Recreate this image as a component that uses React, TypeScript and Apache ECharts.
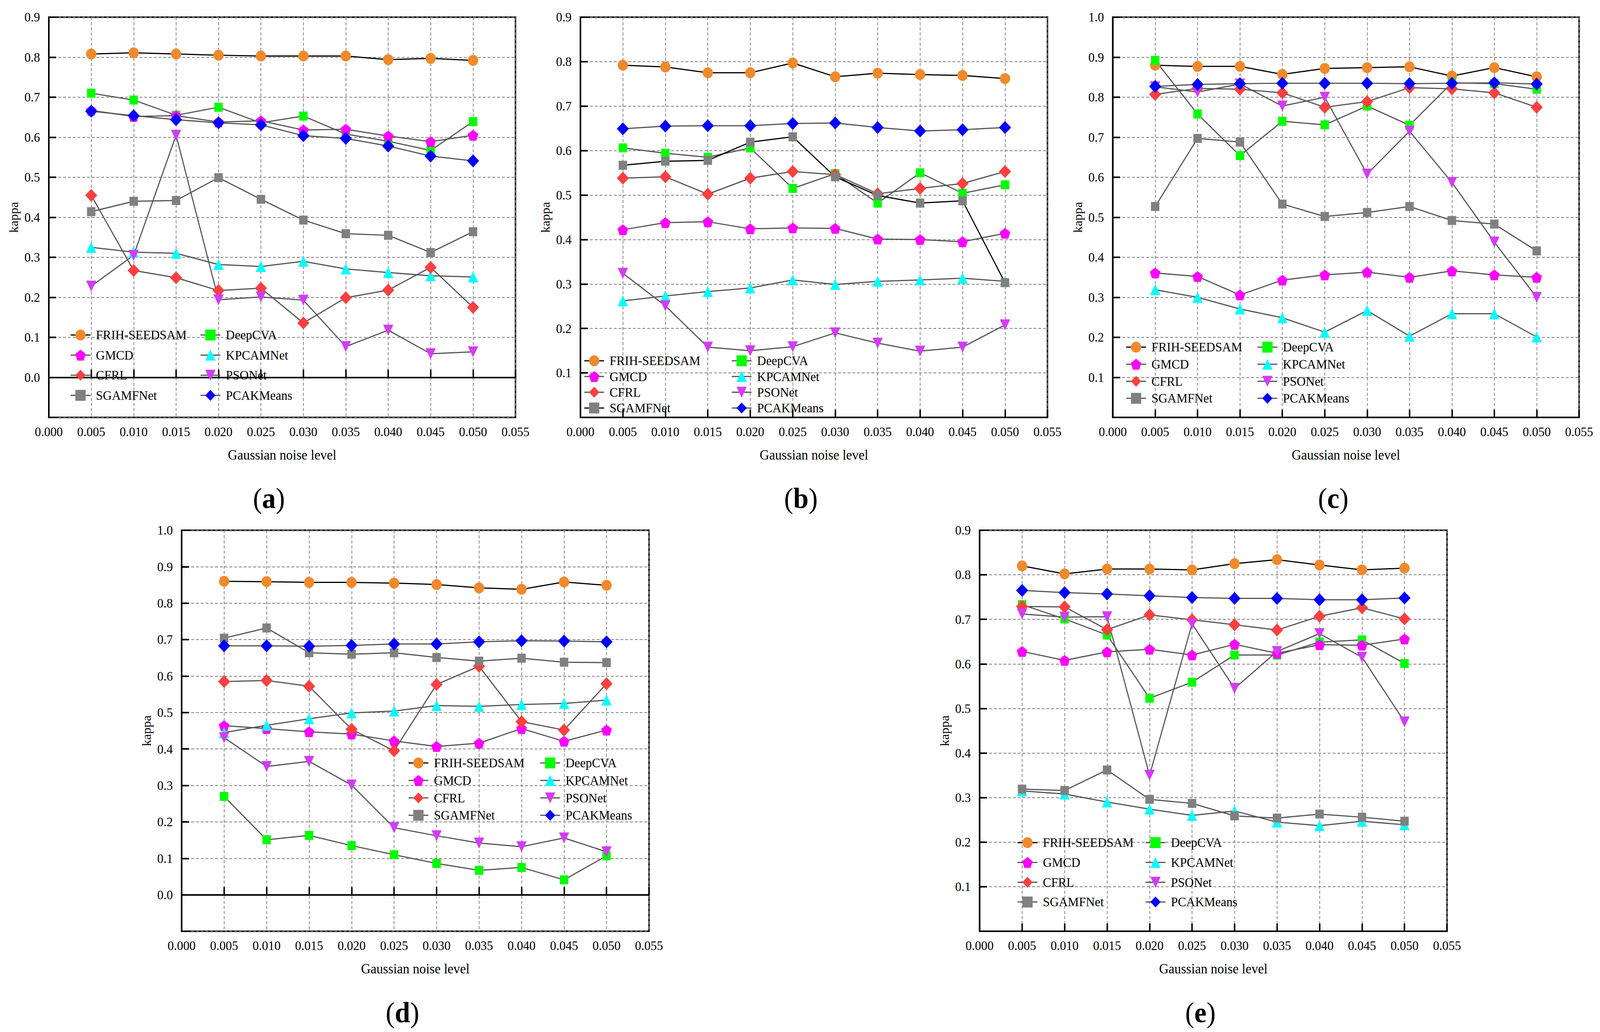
import React, { useEffect, useRef, useState } from 'react';
import * as echarts from 'echarts';

const FONT = '"Liberation Serif", "Times New Roman", serif';
const PAGE_W = 4361;
const PAGE_H = 2643;

const noiseLevels = [0.005, 0.01, 0.015, 0.02, 0.025, 0.03, 0.035, 0.04, 0.045, 0.05];

// legend order (two columns of four)
const methods = ['FRIH-SEEDSAM', 'GMCD', 'CFRL', 'SGAMFNet', 'DeepCVA', 'KPCAMNet', 'PSONet', 'PCAKMeans'];
// order in which the curves are drawn (later ones on top)
const drawOrder = ['FRIH-SEEDSAM', 'DeepCVA', 'GMCD', 'KPCAMNet', 'CFRL', 'PSONet', 'SGAMFNet', 'PCAKMeans'];

// kappa values, one row per method in the order of `methods`
const kappaA = [
  [0.808, 0.811, 0.808, 0.805, 0.803, 0.803, 0.803, 0.794, 0.797, 0.792],
  [0.667, 0.652, 0.654, 0.638, 0.641, 0.618, 0.62, 0.603, 0.589, 0.605],
  [0.455, 0.267, 0.249, 0.217, 0.223, 0.136, 0.199, 0.218, 0.275, 0.175],
  [0.414, 0.44, 0.442, 0.499, 0.445, 0.393, 0.359, 0.355, 0.312, 0.364],
  [0.71, 0.693, 0.655, 0.675, 0.636, 0.653, 0.608, 0.59, 0.567, 0.639],
  [0.325, 0.313, 0.31, 0.282, 0.277, 0.29, 0.271, 0.262, 0.254, 0.251],
  [0.228, 0.305, 0.605, 0.194, 0.201, 0.193, 0.077, 0.118, 0.059, 0.064],
  [0.665, 0.654, 0.644, 0.636, 0.631, 0.604, 0.597, 0.578, 0.553, 0.541],
];

const kappaB = [
  [0.792, 0.788, 0.775, 0.775, 0.797, 0.766, 0.774, 0.771, 0.769, 0.762],
  [0.422, 0.438, 0.44, 0.424, 0.426, 0.425, 0.401, 0.4, 0.395, 0.414],
  [0.538, 0.541, 0.502, 0.538, 0.553, 0.546, 0.503, 0.515, 0.526, 0.553],
  [0.567, 0.576, 0.578, 0.619, 0.631, 0.541, 0.499, 0.482, 0.487, 0.303],
  [0.606, 0.594, 0.585, 0.606, 0.515, 0.548, 0.482, 0.55, 0.504, 0.523],
  [0.262, 0.273, 0.283, 0.291, 0.309, 0.299, 0.306, 0.309, 0.313, 0.306],
  [0.324, 0.251, 0.158, 0.15, 0.159, 0.19, 0.167, 0.149, 0.158, 0.208],
  [0.649, 0.655, 0.656, 0.656, 0.661, 0.662, 0.652, 0.644, 0.647, 0.652],
];

const kappaC = [
  [0.88, 0.877, 0.877, 0.857, 0.872, 0.874, 0.876, 0.853, 0.874, 0.851],
  [0.361, 0.352, 0.306, 0.343, 0.356, 0.363, 0.35, 0.366, 0.356, 0.35],
  [0.807, 0.822, 0.82, 0.811, 0.775, 0.789, 0.824, 0.821, 0.811, 0.775],
  [0.527, 0.697, 0.688, 0.533, 0.502, 0.512, 0.527, 0.492, 0.483, 0.416],
  [0.892, 0.758, 0.654, 0.74, 0.731, 0.778, 0.73, 0.836, 0.834, 0.82],
  [0.319, 0.3, 0.271, 0.249, 0.213, 0.267, 0.203, 0.259, 0.259, 0.201],
  [0.826, 0.813, 0.833, 0.778, 0.8, 0.608, 0.715, 0.587, 0.438, 0.3],
  [0.827, 0.832, 0.834, 0.835, 0.835, 0.835, 0.834, 0.835, 0.836, 0.833],
];

const kappaD = [
  [0.86, 0.859, 0.857, 0.857, 0.855, 0.851, 0.842, 0.838, 0.858, 0.849],
  [0.464, 0.456, 0.447, 0.441, 0.422, 0.407, 0.416, 0.456, 0.421, 0.452],
  [0.585, 0.588, 0.572, 0.454, 0.395, 0.577, 0.627, 0.475, 0.452, 0.579],
  [0.704, 0.732, 0.664, 0.66, 0.664, 0.651, 0.641, 0.649, 0.638, 0.637],
  [0.27, 0.151, 0.163, 0.135, 0.11, 0.086, 0.067, 0.075, 0.041, 0.107],
  [0.445, 0.465, 0.483, 0.499, 0.504, 0.519, 0.517, 0.522, 0.525, 0.534],
  [0.431, 0.352, 0.366, 0.301, 0.184, 0.162, 0.142, 0.132, 0.156, 0.118],
  [0.683, 0.683, 0.682, 0.684, 0.688, 0.688, 0.694, 0.697, 0.696, 0.694],
];

const kappaE = [
  [0.82, 0.802, 0.813, 0.813, 0.811, 0.825, 0.834, 0.822, 0.811, 0.815],
  [0.628, 0.608, 0.627, 0.633, 0.62, 0.644, 0.624, 0.643, 0.642, 0.656],
  [0.729, 0.728, 0.677, 0.71, 0.699, 0.688, 0.676, 0.707, 0.726, 0.701],
  [0.319, 0.316, 0.362, 0.296, 0.287, 0.259, 0.254, 0.263, 0.256, 0.247],
  [0.733, 0.701, 0.665, 0.523, 0.559, 0.62, 0.62, 0.649, 0.654, 0.601],
  [0.315, 0.308, 0.29, 0.274, 0.26, 0.27, 0.245, 0.237, 0.247, 0.239],
  [0.712, 0.705, 0.706, 0.35, 0.69, 0.545, 0.628, 0.668, 0.615, 0.47],
  [0.765, 0.76, 0.757, 0.753, 0.749, 0.747, 0.747, 0.744, 0.744, 0.748],
];

const PENTAGON = 'path://M0,-10L9.51,-3.09L5.88,8.09L-5.88,8.09L-9.51,-3.09Z';

const markerStyle: Record<string, { symbol: string; size: number; color: string; rotate?: number }> = {
  'FRIH-SEEDSAM': { symbol: 'circle', size: 28, color: '#F0892C' },
  GMCD: { symbol: PENTAGON, size: 29, color: '#FF00FF' },
  CFRL: { symbol: 'diamond', size: 33, color: '#FA4040' },
  SGAMFNet: { symbol: 'rect', size: 23, color: '#808080' },
  DeepCVA: { symbol: 'rect', size: 23, color: '#00FF00' },
  KPCAMNet: { symbol: 'triangle', size: 28, color: '#00FFFF' },
  PSONet: { symbol: 'triangle', size: 28, color: '#D23CF5', rotate: 180 },
  PCAKMeans: { symbol: 'diamond', size: 33, color: '#0000FF' },
};

const panels = [
  { tag: 'a', data: kappaA, grid: { left: 133, top: 44, width: 1272, height: 1025 }, yMin: -0.1, yMax: 0.9, firstLabel: 0,
    legendLeft: [191, 545], legendRow: 858, legendStep: 51.5, blackLines: ['FRIH-SEEDSAM'], label: [733, 1276] },
  { tag: 'b', data: kappaB, grid: { left: 1582, top: 44, width: 1273, height: 1025 }, yMin: 0, yMax: 0.9, firstLabel: 0.1,
    legendLeft: [1591, 1993], legendRow: 924, legendStep: 40.3, blackLines: ['FRIH-SEEDSAM', 'SGAMFNet'], label: [2183, 1276] },
  { tag: 'c', data: kappaC, grid: { left: 3033, top: 44, width: 1271, height: 1025 }, yMin: 0, yMax: 1.0, firstLabel: 0.1,
    legendLeft: [3068, 3426], legendRow: 889, legendStep: 43.7, blackLines: ['FRIH-SEEDSAM'], label: [3634, 1276] },
  { tag: 'd', data: kappaD, grid: { left: 495, top: 1358, width: 1274, height: 1027 }, yMin: -0.1, yMax: 1.0, firstLabel: 0,
    legendLeft: [1112, 1471], legendRow: 1954, legendStep: 44.7, blackLines: ['FRIH-SEEDSAM'], label: [1097, 2593] },
  { tag: 'e', data: kappaE, grid: { left: 2670, top: 1358, width: 1274, height: 1027 }, yMin: 0, yMax: 0.9, firstLabel: 0.1,
    legendLeft: [2772, 3121], legendRow: 2158, legendStep: 50.7, blackLines: ['FRIH-SEEDSAM'], label: [3272, 2593] },
];

const ITEM_H = 35;

const App: React.FC = () => {
  const chartRef = useRef<HTMLDivElement>(null);
  const [fit, setFit] = useState({ sx: 1, sy: 1 });

  useEffect(() => {
    // the browser window may be narrower than the figure: squeeze it to the viewport
    document.body.style.margin = '0';
    document.body.style.overflow = 'hidden';
    const w = window.innerWidth || PAGE_W;
    const h = window.innerHeight || PAGE_H;
    setFit({ sx: Math.min(1, w / PAGE_W), sy: Math.min(1, h / PAGE_H) });
  }, []);

  useEffect(() => {
    if (!chartRef.current) return;
    const chart = echarts.init(chartRef.current, undefined, { renderer: 'svg', width: PAGE_W, height: PAGE_H });

    const lineColor = (p: any, name: string) => (p.blackLines.includes(name) ? '#000000' : '#555555');

    const grids = panels.map(p => ({
      ...p.grid,
      show: true,
      borderColor: '#000',
      borderWidth: 4,
      backgroundColor: 'transparent',
      containLabel: false,
      outerBoundsMode: 'none',
    }));

    const xAxes = panels.map((p, i) => ({
      type: 'value',
      gridIndex: i,
      min: 0,
      max: 0.055,
      interval: 0.005,
      name: 'Gaussian noise level',
      nameLocation: 'middle',
      nameGap: 78,
      nameTextStyle: { fontFamily: FONT, fontSize: 36, color: '#000' },
      axisLine: { show: true, lineStyle: { color: '#000', width: 4 } },
      axisTick: { show: true, inside: true, length: 20, lineStyle: { color: '#000', width: 4 } },
      axisLabel: {
        fontFamily: FONT, fontSize: 34, color: '#000', margin: 20,
        showMinLabel: true, showMaxLabel: true,
        formatter: (v: number) => v.toFixed(3),
      },
      splitLine: { show: true, lineStyle: { color: '#808080', width: 2, type: [8, 5] } },
    }));

    const yAxes = panels.map((p, i) => ({
      type: 'value',
      gridIndex: i,
      min: p.yMin,
      max: p.yMax,
      interval: 0.1,
      name: 'kappa',
      nameLocation: 'middle',
      nameGap: 79,
      nameTextStyle: { fontFamily: FONT, fontSize: 33, color: '#000' },
      axisLine: { show: true, lineStyle: { color: '#000', width: 4 } },
      axisTick: { show: true, inside: true, length: 20, lineStyle: { color: '#000', width: 4 } },
      axisLabel: {
        fontFamily: FONT, fontSize: 34, color: '#000', margin: 24,
        showMinLabel: true, showMaxLabel: true,
        formatter: (v: number) => (v < p.firstLabel - 1e-6 ? '' : v.toFixed(1)),
      },
      splitLine: { show: true, lineStyle: { color: '#808080', width: 2, type: [8, 5] } },
    }));

    const series: any[] = [];
    panels.forEach((p, i) => {
      drawOrder.forEach(name => {
        const m = markerStyle[name];
        const values = p.data[methods.indexOf(name)];
        series.push({
          type: 'line',
          name,
          xAxisIndex: i,
          yAxisIndex: i,
          data: noiseLevels.map((x, j) => [x, values[j]]),
          symbol: m.symbol,
          symbolSize: m.size,
          symbolRotate: m.rotate || 0,
          symbolKeepAspect: true,
          showSymbol: true,
          itemStyle: { color: m.color, borderWidth: 0 },
          lineStyle: { color: lineColor(p, name), width: 3 },
          emphasis: { disabled: true },
        });
      });
    });

    const legends: any[] = [];
    panels.forEach(p => {
      [0, 1].forEach(col => {
        legends.push({
          orient: 'vertical',
          left: p.legendLeft[col],
          top: p.legendRow - ITEM_H / 2,
          padding: 0,
          itemWidth: 54,
          itemHeight: ITEM_H,
          itemGap: p.legendStep - ITEM_H,
          selectedMode: false,
          textStyle: { fontFamily: FONT, fontSize: 34, color: '#000', lineHeight: ITEM_H, padding: [0, 0, 0, 10] },
          data: methods.slice(col * 4, col * 4 + 4).map(name => ({
            name,
            lineStyle: { color: lineColor(p, name), width: 3 },
          })),
        });
      });
    });

    const graphics: any[] = panels.map(p => ({
      type: 'text',
      x: p.label[0],
      y: p.label[1],
      style: {
        text: `{p|(}{b|${p.tag}}{p|)}`,
        align: 'center',
        verticalAlign: 'middle',
        rich: {
          p: { fontFamily: FONT, fontSize: 75, color: '#000' },
          b: { fontFamily: FONT, fontSize: 75, fontWeight: 'bold', color: '#000' },
        },
      },
    }));

    chart.setOption({
      animation: false,
      backgroundColor: '#ffffff',
      grid: grids,
      xAxis: xAxes,
      yAxis: yAxes,
      legend: legends,
      series,
      graphic: graphics,
    });

    return () => {
      chart.dispose();
    };
  }, []);

  return (
    <div style={{ width: PAGE_W * fit.sx, height: PAGE_H * fit.sy, overflow: 'hidden' }}>
      <div
        ref={chartRef}
        style={{
          width: PAGE_W,
          height: PAGE_H,
          transform: `scale(${fit.sx}, ${fit.sy})`,
          transformOrigin: '0 0',
        }}
      />
    </div>
  );
};

export default App;
